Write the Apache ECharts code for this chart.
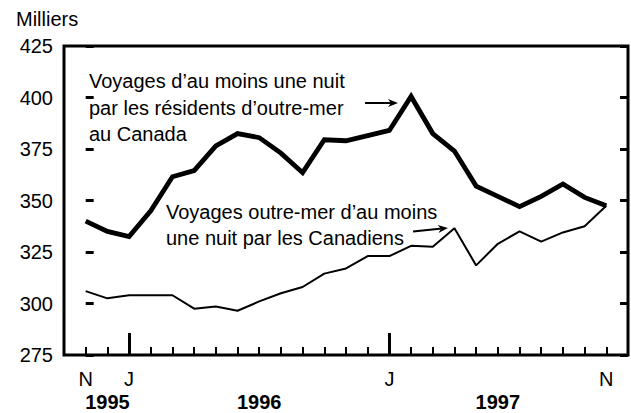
<!DOCTYPE html>
<html>
<head>
<meta charset="utf-8">
<script src="https://cdn.jsdelivr.net/npm/echarts@6/dist/echarts.min.js"></script>
<style>
html,body{margin:0;padding:0;background:#fff;}
#chart{width:631px;height:413px;}
</style>
</head>
<body>
<div id="chart"></div>
<script>
// Months: Nov 1995 .. Nov 1997 (index 0..24)
const monthIndex = [0,1,2,3,4,5,6,7,8,9,10,11,12,13,14,15,16,17,18,19,20,21,22,23,24];
// Trips of one or more nights to Canada by overseas residents (thousands)
const overseasToCanada = [340, 335, 332.5, 345, 361.5, 364.5, 376.5, 382.5, 380.5, 373, 363.5, 379.5, 379, 381.5, 384, 400.5, 382.5, 374, 357, 352, 347, 352, 358, 351.5, 347.5];
// Overseas trips of one or more nights by Canadians (thousands)
const canadiansOverseas = [306, 302.5, 304, 304, 304, 297.5, 298.5, 296.5, 301, 305, 308, 314.5, 317, 323, 323, 328, 327.5, 336.5, 318.5, 329, 335, 330, 334.5, 337.5, 347.5];
// Axis slots (one padding month before and after the data)
const monthSlotLabels = ['', 'N', '', 'J', '', '', '', '', '', '', '', '', '', '', '', 'J', '', '', '', '', '', '', '', '', '', 'N', ''];
const yearSlotLabels  = ['', '', '1995', '', '', '', '', '', '', '1996', '', '', '', '', '', '', '', '', '', '', '1997', '', '', '', '', '', ''];
const longTickSlots = [3, 15];
const yTicks = {min: 275, max: 425, interval: 25};
const yAxisName = 'Milliers';
const label1 = "Voyages d\u2019au moins une nuit\npar les r\u00e9sidents d\u2019outre-mer\nau Canada";
const label2 = "Voyages outre-mer d\u2019au moins\nune nuit par les Canadiens";

const FONT = '"Liberation Sans", Arial, Helvetica, sans-serif';
const chart = echarts.init(document.getElementById('chart'), null, {renderer: 'svg'});

function arrow(x1, y1, x2, y2) {
  const dx = x2 - x1, dy = y2 - y1, L = Math.hypot(dx, dy);
  const ux = dx / L, uy = dy / L, px = -uy, py = ux;
  const hl = 10, hw = 4;
  const bx = x2 - ux * hl, by = y2 - uy * hl;
  return [
    {type: 'line', shape: {x1: x1, y1: y1, x2: x2 - ux * 6, y2: y2 - uy * 6}, style: {stroke: '#000', lineWidth: 2}},
    {type: 'polygon', shape: {points: [[x2, y2], [bx + px * hw, by + py * hw], [x2 - ux * 7, y2 - uy * 7], [bx - px * hw, by - py * hw]]}, style: {fill: '#000'}}
  ];
}

chart.setOption({
  animation: false,
  backgroundColor: '#fff',
  grid: {left: 64, right: 2.5, top: 46, bottom: 58, show: true, borderColor: '#000', borderWidth: 3, backgroundColor: 'transparent'},
  xAxis: [
    {type: 'value', min: -1, max: 25, interval: 1, position: 'bottom',
     axisLine: {show: false}, splitLine: {show: false},
     axisTick: {show: true, inside: true, length: 8, lineStyle: {color: '#000', width: 2}},
     axisLabel: {show: false}},
    {type: 'category', data: monthSlotLabels, boundaryGap: false, position: 'bottom',
     axisLine: {show: false}, splitLine: {show: false},
     axisTick: {show: true, inside: true, length: 22, interval: function (i) { return longTickSlots.indexOf(i) >= 0; }, lineStyle: {color: '#000', width: 3}},
     axisLabel: {interval: 0, margin: 14, color: '#000', fontSize: 20, fontFamily: FONT}},
    {type: 'category', data: yearSlotLabels, boundaryGap: false, position: 'bottom',
     axisLine: {show: false}, splitLine: {show: false}, axisTick: {show: false},
     axisLabel: {interval: 0, margin: 37, color: '#000', fontSize: 20, fontWeight: 'bold', fontFamily: FONT}}
  ],
  yAxis: [
    {type: 'value', min: yTicks.min, max: yTicks.max, interval: yTicks.interval, position: 'left',
     axisLine: {show: false}, splitLine: {show: false},
     axisTick: {show: true, inside: true, length: 8, lineStyle: {color: '#000', width: 3}},
     axisLabel: {margin: 11, color: '#000', fontSize: 20, fontFamily: FONT}},
    {type: 'value', min: yTicks.min, max: yTicks.max, interval: yTicks.interval, position: 'right',
     axisLine: {show: false}, splitLine: {show: false},
     axisTick: {show: true, inside: true, length: 8, lineStyle: {color: '#000', width: 3}},
     axisLabel: {show: false}}
  ],
  series: [
    {type: 'line', xAxisIndex: 0, yAxisIndex: 0, showSymbol: false, symbol: 'none',
     data: monthIndex.map((m, i) => [m, overseasToCanada[i]]),
     lineStyle: {color: '#000', width: 4.8, join: 'miter'}},
    {type: 'line', xAxisIndex: 0, yAxisIndex: 0, showSymbol: false, symbol: 'none',
     data: monthIndex.map((m, i) => [m, canadiansOverseas[i]]),
     lineStyle: {color: '#000', width: 2}}
  ],
  graphic: [
    {type: 'text', left: 16, top: 9, style: {text: yAxisName, font: '20px ' + FONT, fill: '#000'}},
    {type: 'text', left: 89, top: 68, style: {text: label1, font: '20px ' + FONT, fill: '#000', lineHeight: 26.5}},
    {type: 'text', left: 166, top: 199, style: {text: label2, font: '20px ' + FONT, fill: '#000', lineHeight: 26}}
  ].concat(arrow(365, 103, 398, 103)).concat(arrow(413, 231.5, 448, 228))
});
</script>
</body>
</html>
